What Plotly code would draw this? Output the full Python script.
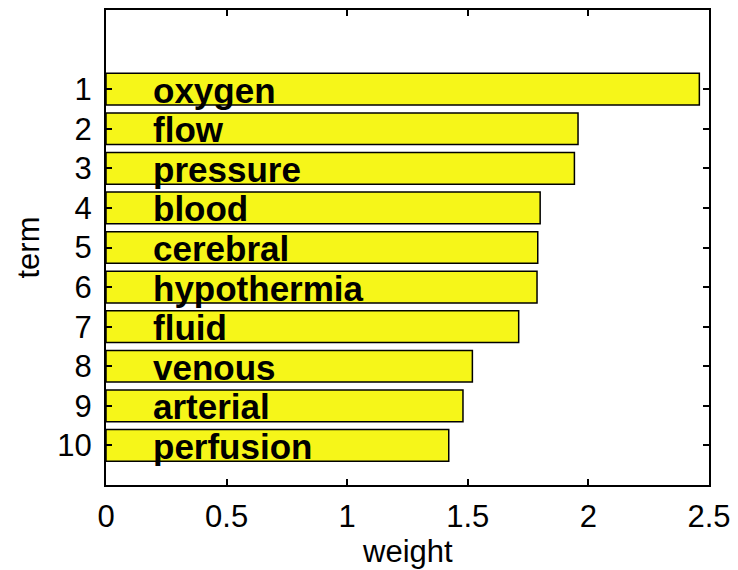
import plotly.graph_objects as go

ranks = [1, 2, 3, 4, 5, 6, 7, 8, 9, 10]
terms = ["oxygen", "flow", "pressure", "blood", "cerebral",
         "hypothermia", "fluid", "venous", "arterial", "perfusion"]
weights = [2.460, 1.957, 1.942, 1.800, 1.790, 1.787, 1.711, 1.519, 1.480, 1.421]
x_ticks = [0, 0.5, 1, 1.5, 2, 2.5]
x_tick_labels = ["0", "0.5", "1", "1.5", "2", "2.5"]

FONT = "Liberation Sans, Arial, Helvetica, sans-serif"

fig = go.Figure()
fig.add_trace(go.Bar(
    x=weights, y=ranks, orientation="h", width=0.8,
    marker=dict(color="#f6f619", line=dict(color="black", width=1.5)),
    hoverinfo="skip",
))

for r, t in zip(ranks, terms):
    fig.add_annotation(x=0.2, y=r, text="<b>%s</b>" % t, showarrow=False,
                       xanchor="left", yanchor="middle", xref="x", yref="y",
                       xshift=-3, yshift=-1,
                       font=dict(family=FONT, size=35, color="black"))

# axis titles
fig.add_annotation(x=0.5, y=-0.1395, xref="paper", yref="paper", text="weight",
                   showarrow=False, xanchor="center", yanchor="middle",
                   font=dict(family=FONT, size=31, color="black"))
fig.add_annotation(x=-0.1277, y=0.5, xref="paper", yref="paper", text="term",
                   showarrow=False, xanchor="center", yanchor="middle", textangle=-90,
                   font=dict(family=FONT, size=31, color="black"))

axis_common = dict(showline=True, linecolor="black", linewidth=2, mirror="ticks",
                   ticks="inside", ticklen=6, tickwidth=1.5, tickcolor="black",
                   showgrid=False, zeroline=False, automargin=False,
                   tickfont=dict(family=FONT, size=31, color="black"))

fig.update_layout(
    width=730, height=562,
    margin=dict(l=98, r=29, t=2, b=85, pad=0),
    plot_bgcolor="white", paper_bgcolor="white",
    showlegend=False,
    xaxis=dict(range=[0, 2.5], tickvals=x_ticks, ticktext=x_tick_labels,
               ticklabelstandoff=3, **axis_common),
    yaxis=dict(range=[11, -1], tickvals=ranks, ticktext=[str(r) for r in ranks],
               ticklabelstandoff=6, **axis_common),
)

fig.write_html("out.html")
